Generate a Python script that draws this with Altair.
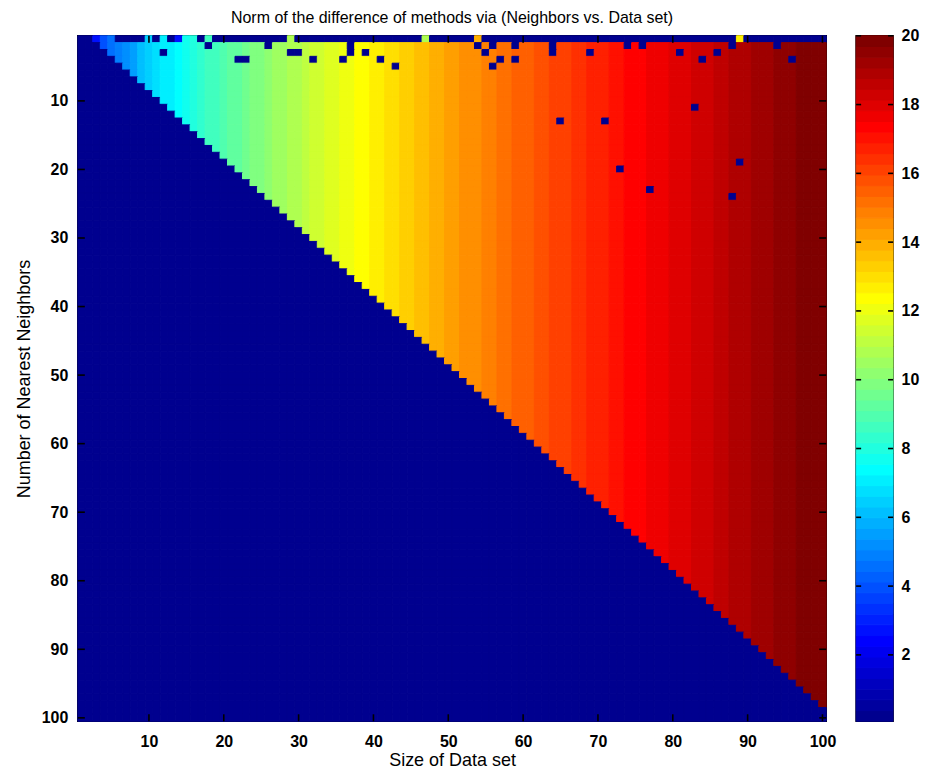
import altair as alt
import pandas as pd

alt.data_transformers.disable_max_rows()

# ---------------- data ----------------
size_ticks = [10, 20, 30, 40, 50, 60, 70, 80, 90, 100]
neighbor_ticks = [10, 20, 30, 40, 50, 60, 70, 80, 90, 100]
colorbar_ticks = [2, 4, 6, 8, 10, 12, 14, 16, 18, 20]

# norm value per "Size of Data set" column (1..100)
column_norm = [
    2.00, 2.83, 3.46, 4.00, 4.47, 4.90, 5.29, 5.66, 6.00, 6.32,
    6.63, 6.93, 7.21, 7.48, 7.75, 8.00, 8.25, 8.49, 8.72, 8.94,
    9.17, 9.38, 9.59, 9.80, 10.00, 10.20, 10.39, 10.58, 10.77, 10.95,
    11.14, 11.31, 11.49, 11.66, 11.83, 12.00, 12.17, 12.33, 12.49, 12.65,
    12.81, 12.96, 13.11, 13.27, 13.42, 13.56, 13.71, 13.86, 14.00, 14.14,
    14.28, 14.42, 14.56, 14.70, 14.83, 14.97, 15.10, 15.23, 15.36, 15.49,
    15.62, 15.75, 15.87, 16.00, 16.12, 16.25, 16.37, 16.49, 16.61, 16.73,
    16.85, 16.97, 17.09, 17.20, 17.32, 17.44, 17.55, 17.66, 17.78, 17.89,
    18.00, 18.11, 18.22, 18.33, 18.44, 18.55, 18.65, 18.76, 18.87, 18.97,
    19.08, 19.18, 19.29, 19.39, 19.49, 19.60, 19.70, 19.80, 19.90, 20.00,
]

# first row (1 neighbor): only a few cells are non-zero
first_row_sizes = [3, 4, 5, 10, 12, 14, 15, 16, 18, 29, 47, 54, 89]
first_row_values = [2.8, 4.0, 4.47, 6.32, 6.93, 2.6, 7.75, 8.0, 8.49, 10.77, 10.8, 14.0, 12.8]

# zero-valued cells inside the coloured triangle (size, neighbors)
hole_sizes = [12, 18, 22, 23, 26, 29, 30, 32, 37, 37, 36, 39, 41, 43, 54, 55, 56, 57, 56,
              59, 59, 64, 64, 69, 74, 76, 81, 84, 86, 88, 94, 96, 65, 71, 83, 73, 77, 89, 88]
hole_neighbors = [3, 2, 4, 4, 2, 3, 3, 4, 2, 3, 4, 3, 4, 5, 2, 3, 2, 4, 5,
                  2, 4, 2, 3, 3, 2, 2, 3, 4, 3, 2, 2, 4, 13, 13, 11, 20, 23, 19, 24]

c_min, c_max = 0.07, 20.0

# ---------------- table ----------------
holes = set(zip(hole_sizes, hole_neighbors))
first_row = dict(zip(first_row_sizes, first_row_values))
rows = []
for nn in range(1, 101):
    for s in range(1, 101):
        if nn == 1:
            v = first_row.get(s, 0.0)
        elif s >= nn + 2 and (s, nn) not in holes:
            v = column_norm[s - 1]
        else:
            v = 0.0
        rows.append({"size": s, "nn": nn, "v": v})
cells_df = pd.DataFrame(rows)


# MATLAB "jet" colormap with 64 entries (style)
def jet64():
    n = 16
    u = [k / n for k in range(1, n + 1)] + [1.0] * (n - 1) + [k / n for k in range(n, 0, -1)]
    out = []
    for j in range(1, 65):
        def ch(off):
            k = j - off
            return u[k - 1] if 1 <= k <= len(u) else 0.0
        r, g, b = ch(24), ch(8), ch(-8)
        out.append("#%02x%02x%02x" % (round(r * 255), round(g * 255), round(b * 255)))
    return out


jet = jet64()
cscale = alt.Scale(type="quantize", domain=[c_min, c_max], range=jet, nice=False, zero=False)

W, H = 750, 687
CBW = 37
TL = 7
FONT = "Liberation Sans"

xs = alt.Scale(domain=[0.5, 100.5], nice=False, zero=False)
ys = alt.Scale(domain=[0.5, 100.5], nice=False, zero=False, reverse=True)
x_axis = alt.Axis(values=size_ticks, title="Size of Data set", labelPadding=12, titlePadding=2,
                  labelFlush=False)
y_axis = alt.Axis(values=neighbor_ticks, title="Number of Nearest Neighbors",
                  labelPadding=10, titlePadding=8, labelFlush=False)

cells = alt.Chart(cells_df).transform_calculate(
    x0="datum.size - 0.5", x1="datum.size + 0.5",
    y0="datum.nn - 0.5", y1="datum.nn + 0.5",
).mark_rect(strokeWidth=1.0).encode(
    x=alt.X("x0:Q", scale=xs, axis=x_axis),
    x2="x1:Q",
    y=alt.Y("y0:Q", scale=ys, axis=y_axis),
    y2="y1:Q",
    color=alt.Color("v:Q", scale=cscale, legend=None),
    stroke=alt.Stroke("v:Q", scale=cscale, legend=None),
)

xt_df = pd.DataFrame({"t": size_ticks})
yt_df = pd.DataFrame({"t": neighbor_ticks})
tick_style = dict(color="black", strokeWidth=1.6)
xt_bottom = alt.Chart(xt_df).mark_rule(**tick_style).encode(
    x=alt.X("t:Q", scale=xs, axis=x_axis), y=alt.value(H), y2=alt.value(H - TL))
xt_top = alt.Chart(xt_df).mark_rule(**tick_style).encode(
    x=alt.X("t:Q", scale=xs, axis=x_axis), y=alt.value(0), y2=alt.value(TL))
yt_left = alt.Chart(yt_df).mark_rule(**tick_style).encode(
    y=alt.Y("t:Q", scale=ys, axis=y_axis), x=alt.value(0), x2=alt.value(TL))
yt_right = alt.Chart(yt_df).mark_rule(**tick_style).encode(
    y=alt.Y("t:Q", scale=ys, axis=y_axis), x=alt.value(W), x2=alt.value(W - TL))

heat = alt.layer(cells, xt_bottom, xt_top, yt_left, yt_right).properties(
    width=W, height=H,
    title=alt.TitleParams("Norm of the difference of methods via (Neighbors vs. Data set)",
                          font=FONT, fontSize=16, fontWeight="normal", anchor="middle",
                          offset=9, color="black"),
)

# colour bar
step = (c_max - c_min) / len(jet)
band_df = pd.DataFrame({
    "lo": [c_min + i * step for i in range(len(jet))],
    "hi": [c_min + (i + 1) * step for i in range(len(jet))],
    "mid": [c_min + (i + 0.5) * step for i in range(len(jet))],
})
cbs = alt.Scale(domain=[c_min, c_max], nice=False, zero=False)
cb_axis = alt.Axis(orient="right", values=colorbar_ticks, title=None, labelPadding=8,
                   labelFlush=False)
bands = alt.Chart(band_df).mark_rect(strokeWidth=1.0).encode(
    x=alt.value(0), x2=alt.value(CBW),
    y=alt.Y("lo:Q", scale=cbs, axis=cb_axis),
    y2="hi:Q",
    color=alt.Color("mid:Q", scale=cscale, legend=None),
    stroke=alt.Stroke("mid:Q", scale=cscale, legend=None),
)
ct_df = pd.DataFrame({"t": colorbar_ticks})
cb_left = alt.Chart(ct_df).mark_rule(**tick_style).encode(
    y=alt.Y("t:Q", scale=cbs, axis=cb_axis), x=alt.value(0), x2=alt.value(5))
cb_right = alt.Chart(ct_df).mark_rule(**tick_style).encode(
    y=alt.Y("t:Q", scale=cbs, axis=cb_axis), x=alt.value(CBW), x2=alt.value(CBW - 5))
cbar = alt.layer(bands, cb_left, cb_right).properties(width=CBW, height=H)

chart = alt.hconcat(heat, cbar, spacing=17).resolve_scale(
    x="independent", y="independent"
).properties(
    padding={"left": 6, "top": 0, "right": 0, "bottom": 0},
    background="white",
).configure_view(
    stroke="black", strokeWidth=1.6
).configure_axis(
    domain=False, ticks=False, grid=False,
    labelFont=FONT, labelFontSize=16, labelFontWeight="bold", labelColor="black",
    titleFont=FONT, titleFontSize=18, titleFontWeight="normal", titleColor="black",
)

chart.save("out.html", embed_options={"renderer": "svg", "actions": False})
